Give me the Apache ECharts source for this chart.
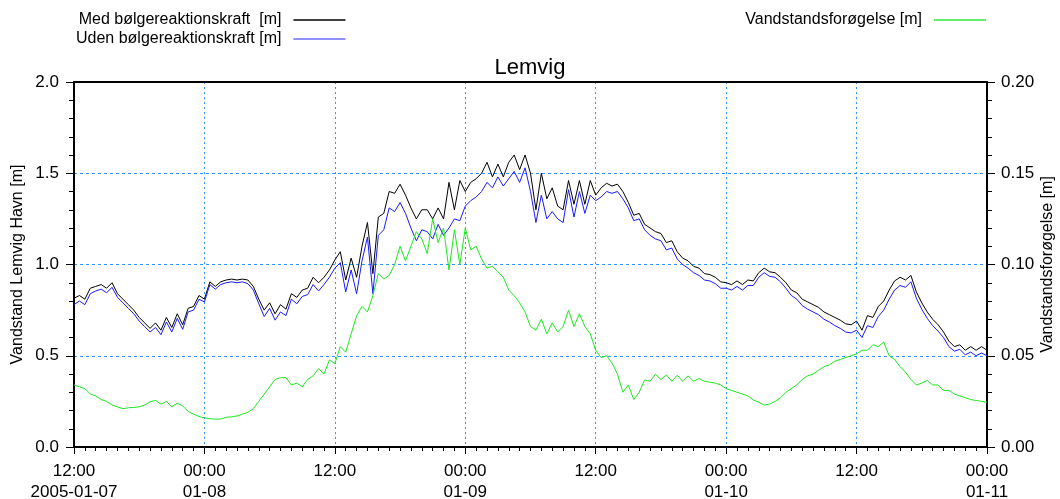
<!DOCTYPE html>
<html>
<head>
<meta charset="utf-8">
<script src="https://cdn.jsdelivr.net/npm/echarts@6/dist/echarts.min.js"></script>
<style>
html,body{margin:0;padding:0;background:#fff;}
#chart{width:1060px;height:499px;}
</style>
</head>
<body>
<div id="chart"></div>
<script>
// Time axis: hours after 2005-01-07 12:00, half-hour samples
const startHour = 0;
const stepHours = 0.5;
const xTickLabels = ['12:00\n2005-01-07','00:00\n01-08','12:00','00:00\n01-09','12:00','00:00\n01-10','12:00','00:00\n01-11'];
const leftTickLabels = ['0.0','0.5','1.0','1.5','2.0'];
const rightTickLabels = ['0.00','0.05','0.10','0.15','0.20'];

const seriesNames = ['Med bølgereaktionskraft  [m]','Uden bølgereaktionskraft [m]','Vandstandsforøgelse [m]'];

// Med bølgereaktionskraft [m]
const medValues = [
0.815,0.83,0.81,0.87,0.88,0.89,0.87,0.90,0.84,0.81,0.78,0.75,0.71,0.68,0.65,0.68,0.64,0.71,0.655,0.73,0.67,0.76,0.77,0.83,
0.81,0.905,0.88,0.905,0.915,0.92,0.915,0.92,0.915,0.88,0.81,0.75,0.79,0.73,0.78,0.755,0.84,0.82,0.86,0.87,0.93,0.90,0.93,0.97,
1.025,1.07,0.915,1.035,0.93,1.10,1.23,0.95,1.26,1.28,1.40,1.39,1.44,1.38,1.31,1.25,1.30,1.30,1.25,1.31,1.25,1.45,1.30,1.46,
1.40,1.45,1.47,1.50,1.56,1.48,1.55,1.48,1.56,1.60,1.52,1.60,1.50,1.30,1.50,1.36,1.42,1.32,1.30,1.46,1.33,1.46,1.33,1.46,
1.38,1.42,1.445,1.43,1.44,1.40,1.34,1.27,1.28,1.22,1.20,1.18,1.17,1.12,1.13,1.07,1.035,1.02,0.99,0.98,0.95,0.945,0.93,0.905,
0.90,0.89,0.91,0.89,0.915,0.91,0.955,0.98,0.96,0.955,0.93,0.90,0.86,0.845,0.81,0.795,0.78,0.765,0.74,0.725,0.71,0.695,0.675,0.67,
0.69,0.64,0.72,0.71,0.77,0.80,0.86,0.91,0.93,0.915,0.94,0.85,0.79,0.74,0.70,0.67,0.63,0.58,0.55,0.56,0.53,0.55,0.53,0.55,0.53
];

// Uden bølgereaktionskraft [m]
const udenValues = [
0.78,0.80,0.78,0.84,0.855,0.865,0.845,0.875,0.82,0.79,0.76,0.73,0.69,0.66,0.63,0.655,0.615,0.685,0.63,0.705,0.645,0.74,0.75,0.81,
0.795,0.89,0.865,0.89,0.90,0.905,0.90,0.905,0.895,0.86,0.785,0.715,0.76,0.695,0.74,0.72,0.81,0.785,0.825,0.835,0.89,0.855,0.89,0.93,
0.98,1.01,0.85,0.97,0.84,1.02,1.15,0.84,1.16,1.19,1.31,1.29,1.34,1.28,1.20,1.13,1.19,1.18,1.14,1.22,1.16,1.20,1.25,1.24,
1.32,1.35,1.37,1.40,1.45,1.42,1.48,1.43,1.47,1.51,1.45,1.53,1.40,1.23,1.38,1.25,1.29,1.25,1.23,1.41,1.26,1.40,1.28,1.38,
1.35,1.37,1.40,1.39,1.40,1.36,1.31,1.24,1.25,1.19,1.16,1.14,1.13,1.08,1.09,1.03,1.00,0.98,0.955,0.94,0.915,0.91,0.895,0.87,
0.87,0.86,0.88,0.86,0.885,0.885,0.93,0.955,0.935,0.93,0.905,0.87,0.83,0.81,0.775,0.755,0.74,0.725,0.70,0.685,0.665,0.65,0.63,0.625,
0.64,0.60,0.665,0.655,0.715,0.75,0.81,0.86,0.885,0.875,0.905,0.815,0.755,0.705,0.665,0.635,0.60,0.55,0.525,0.535,0.505,0.52,0.50,0.515,0.50
];

// Vandstandsforøgelse [m] (right axis)
const forogelseValues = [
0.034,0.033,0.032,0.029,0.028,0.026,0.025,0.023,0.022,0.021,0.0215,0.0217,0.022,0.023,0.0248,0.0255,0.0235,0.025,0.022,0.024,0.0225,0.0195,0.018,0.0167,
0.016,0.0155,0.0153,0.0153,0.0163,0.0165,0.017,0.018,0.019,0.021,0.025,0.029,0.033,0.037,0.038,0.038,0.034,0.035,0.033,0.037,0.039,0.043,0.040,0.0477,
0.0457,0.055,0.052,0.062,0.072,0.077,0.074,0.083,0.095,0.092,0.094,0.100,0.110,0.102,0.110,0.118,0.114,0.106,0.125,0.112,0.120,0.097,0.119,0.100,
0.120,0.108,0.110,0.103,0.098,0.099,0.096,0.093,0.086,0.083,0.079,0.074,0.066,0.064,0.070,0.062,0.068,0.063,0.066,0.075,0.066,0.073,0.066,0.062,
0.053,0.049,0.050,0.046,0.040,0.030,0.034,0.026,0.030,0.0367,0.036,0.0398,0.037,0.0395,0.036,0.0393,0.036,0.039,0.036,0.0375,0.036,0.0355,0.035,0.034,
0.032,0.031,0.030,0.029,0.028,0.0257,0.0245,0.023,0.0235,0.025,0.027,0.030,0.032,0.034,0.037,0.039,0.040,0.042,0.044,0.045,0.047,0.048,0.049,0.050,
0.051,0.053,0.053,0.056,0.055,0.0575,0.050,0.048,0.044,0.041,0.037,0.034,0.035,0.0365,0.034,0.034,0.031,0.031,0.029,0.028,0.027,0.026,0.0255,0.025,0.0245
];

function toPairs(vals){ return vals.map((v,i)=>[startHour + i*stepHours, v]); }

const FONT = '"Liberation Sans", Arial, sans-serif';
const gridColor = '#2f96ff';

const chart = echarts.init(document.getElementById('chart'), null, {renderer:'canvas'});
chart.setOption({
  animation:false,
  backgroundColor:'#ffffff',
  title:{text:'Lemvig', left:'center', top:52, textStyle:{fontFamily:FONT, fontSize:22, fontWeight:'normal', color:'#000'}},
  legend:[
    {orient:'vertical', left:71, top:7, align:'right', itemGap:3, itemWidth:52, itemHeight:1.5, icon:'rect',
     data:[seriesNames[0], seriesNames[1]],
     textStyle:{fontFamily:FONT, fontSize:16, color:'#000', padding:[0,7,0,0]}},
    {orient:'vertical', right:69, top:7, align:'right', itemWidth:52, itemHeight:1.5, icon:'rect',
     data:[seriesNames[2]],
     textStyle:{fontFamily:FONT, fontSize:16, color:'#000', padding:[0,7,0,0]}}
  ],
  grid:{left:74, right:73, top:82, bottom:52, containLabel:false, outerBoundsMode:'none',
        show:false},
  xAxis:[
    {type:'value', min:0, max:84, interval:12, position:'bottom',
    axisLine:{show:true, onZero:false, lineStyle:{color:'#000', width:2}},
    axisTick:{show:true, inside:false, length:7, lineStyle:{color:'#000'}},
    minorTick:{show:true, splitNumber:12, length:4, lineStyle:{color:'#000'}},
    axisLabel:{fontFamily:FONT, fontSize:17, color:'#000', margin:14, lineHeight:21,
      formatter:(v)=>xTickLabels[Math.round(v/12)]},
    splitLine:{show:true, lineStyle:{color:gridColor, type:[2,3], width:1}}},
    {type:'value', min:0, max:84, interval:12, position:'top',
    axisLine:{show:true, onZero:false, lineStyle:{color:'#000', width:2}},
    axisTick:{show:false}, axisLabel:{show:false}, splitLine:{show:false}}
  ],
  yAxis:[
    {type:'value', min:0, max:2, interval:0.5, position:'left',
     name:'Vandstand Lemvig Havn [m]', nameLocation:'middle', nameGap:48, nameMoveOverlap:false,
     nameTextStyle:{fontFamily:FONT, fontSize:16, color:'#000'},
     axisLine:{show:true, onZero:false, lineStyle:{color:'#000', width:2}},
     axisTick:{show:true, length:8, lineStyle:{color:'#000'}},
     minorTick:{show:true, splitNumber:5, length:5, lineStyle:{color:'#000'}},
     axisLabel:{fontFamily:FONT, fontSize:17, color:'#000', margin:15,
       formatter:(v)=>leftTickLabels[Math.round(v/0.5)]},
     splitLine:{show:true, lineStyle:{color:gridColor, type:[3,3], width:1}}},
    {type:'value', min:0, max:0.2, interval:0.05, position:'right',
     name:'Vandstandsforøgelse [m]', nameLocation:'middle', nameGap:53, nameRotate:90, nameMoveOverlap:false,
     nameTextStyle:{fontFamily:FONT, fontSize:16, color:'#000'},
     axisLine:{show:true, onZero:false, lineStyle:{color:'#000', width:2}},
     axisTick:{show:true, length:8, lineStyle:{color:'#000'}},
     minorTick:{show:true, splitNumber:5, length:5, lineStyle:{color:'#000'}},
     axisLabel:{fontFamily:FONT, fontSize:17, color:'#000', margin:14,
       formatter:(v)=>rightTickLabels[Math.round(v/0.05)]},
     splitLine:{show:false}}
  ],
  series:[
    {name:seriesNames[0], type:'line', yAxisIndex:0, data:toPairs(medValues), showSymbol:false, symbol:'none',
     lineStyle:{color:'#000000', width:1}, itemStyle:{color:'#000000'}},
    {name:seriesNames[1], type:'line', yAxisIndex:0, data:toPairs(udenValues), showSymbol:false, symbol:'none',
     lineStyle:{color:'#1a1aff', width:1}, itemStyle:{color:'#6b6bff'}},
    {name:seriesNames[2], type:'line', yAxisIndex:1, data:toPairs(forogelseValues), showSymbol:false, symbol:'none',
     lineStyle:{color:'#1ee81e', width:1}, itemStyle:{color:'#33e833'}}
  ]
});
</script>
</body>
</html>
